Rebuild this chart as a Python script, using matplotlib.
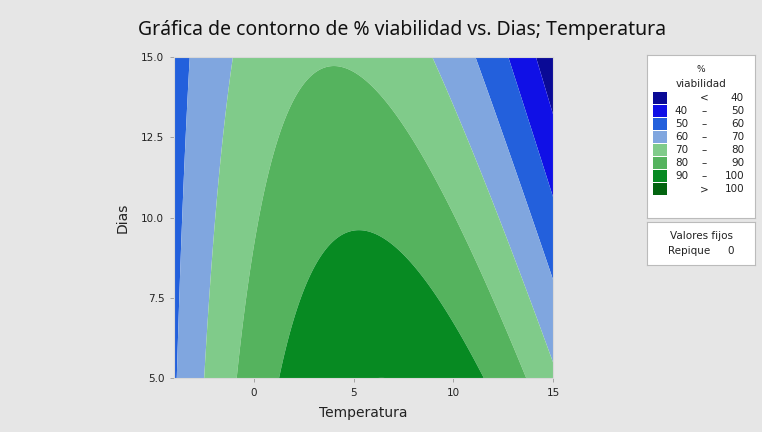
import numpy as np
import matplotlib
matplotlib.use('Agg')
import matplotlib.pyplot as plt
from matplotlib.patches import Rectangle

# fitted response surface: % viabilidad = f(Temperatura, Dias), Repique = 0
b0, bT, bD = 89.86, 5.795, -1.081
bTT, bDD, bTD = -0.38, -0.0004, -0.1862

temp_range = (-4, 15)
dias_range = (5, 15)

band_edges = [40, 50, 60, 70, 80, 90, 100]
band_labels = [("", "<", "40"), ("40", "\u2013", "50"), ("50", "\u2013", "60"),
               ("60", "\u2013", "70"), ("70", "\u2013", "80"), ("80", "\u2013", "90"),
               ("90", "\u2013", "100"), ("", ">", "100")]
band_colors = ['#0a0a96', '#1010e6', '#2360dc', '#80a6df',
               '#80cb8a', '#55b35e', '#078a22', '#02640f']

x_ticks = [0, 5, 10, 15]
y_ticks = [5.0, 7.5, 10.0, 12.5, 15.0]

BG = '#e6e6e6'
TXT = '#222222'

fig = plt.figure(figsize=(7.62, 4.32), dpi=100, facecolor=BG)

# --- contour panel ---
ax = fig.add_axes([174/762, 1-378/432, (553-174)/762, (378-57)/432])
T, D = np.meshgrid(np.linspace(*temp_range, 500), np.linspace(*dias_range, 500))
Z = b0 + bT*T + bD*D + bTT*T**2 + bDD*D**2 + bTD*T*D
levels = [-1e6] + band_edges + [1e6]
ax.contourf(T, D, Z, levels=levels, colors=band_colors, antialiased=True)

ax.set_xlim(*temp_range)
ax.set_ylim(*dias_range)
ax.set_xticks(x_ticks)
ax.set_yticks(y_ticks)
ax.set_yticklabels([f"{v:.1f}" for v in y_ticks])
ax.tick_params(length=3, width=0.6, color='#999999', labelsize=7.5,
               labelcolor=TXT, pad=4)
for s in ax.spines.values():
    s.set_color('#d8d8d8')
    s.set_linewidth(0.8)

ax.set_xlabel("Temperatura", fontsize=10, color=TXT, labelpad=6)
ax.set_ylabel("Dias", fontsize=10, color=TXT, labelpad=8)

fig.text(402/762, 1-30/432, "Gráfica de contorno de % viabilidad vs. Dias; Temperatura",
         ha='center', va='center', fontsize=14, color='#111111', family='Noto Sans')

# --- legend box ---
lx0, lx1 = 647, 755
lax = fig.add_axes([lx0/762, 1-218/432, (lx1-lx0)/762, (218-55)/432])
lax.set_xlim(lx0, lx1)
lax.set_ylim(218, 55)
lax.set_facecolor('white')
lax.set_xticks([])
lax.set_yticks([])
for s in lax.spines.values():
    s.set_color('#bbbbbb')
    s.set_linewidth(0.8)
lax.text(701, 69, "%", ha='center', va='center', fontsize=6.5, color=TXT)
lax.text(701, 84, "viabilidad", ha='center', va='center', fontsize=7.5, color=TXT)
for i, ((lo, sep, hi), col) in enumerate(zip(band_labels, band_colors)):
    yc = 98 + i*13
    lax.add_patch(Rectangle((653, yc-6), 14, 12, facecolor=col, edgecolor='none'))
    if lo:
        lax.text(688, yc, lo, ha='right', va='center', fontsize=7.5, color=TXT)
    lax.text(704, yc, sep, ha='center', va='center', fontsize=7.5, color=TXT)
    lax.text(744, yc, hi, ha='right', va='center', fontsize=7.5, color=TXT)

# --- fixed values box ---
fax = fig.add_axes([lx0/762, 1-265/432, (lx1-lx0)/762, (265-222)/432])
fax.set_xlim(lx0, lx1)
fax.set_ylim(265, 222)
fax.set_facecolor('white')
fax.set_xticks([])
fax.set_yticks([])
for s in fax.spines.values():
    s.set_color('#bbbbbb')
    s.set_linewidth(0.8)
fax.text(701, 236, "Valores fijos", ha='center', va='center', fontsize=7.5, color=TXT)
fax.text(689, 251, "Repique", ha='center', va='center', fontsize=7.5, color=TXT)
fax.text(731, 251, "0", ha='center', va='center', fontsize=7.5, color=TXT)

fig.savefig('out.png', dpi=100, facecolor=BG)
